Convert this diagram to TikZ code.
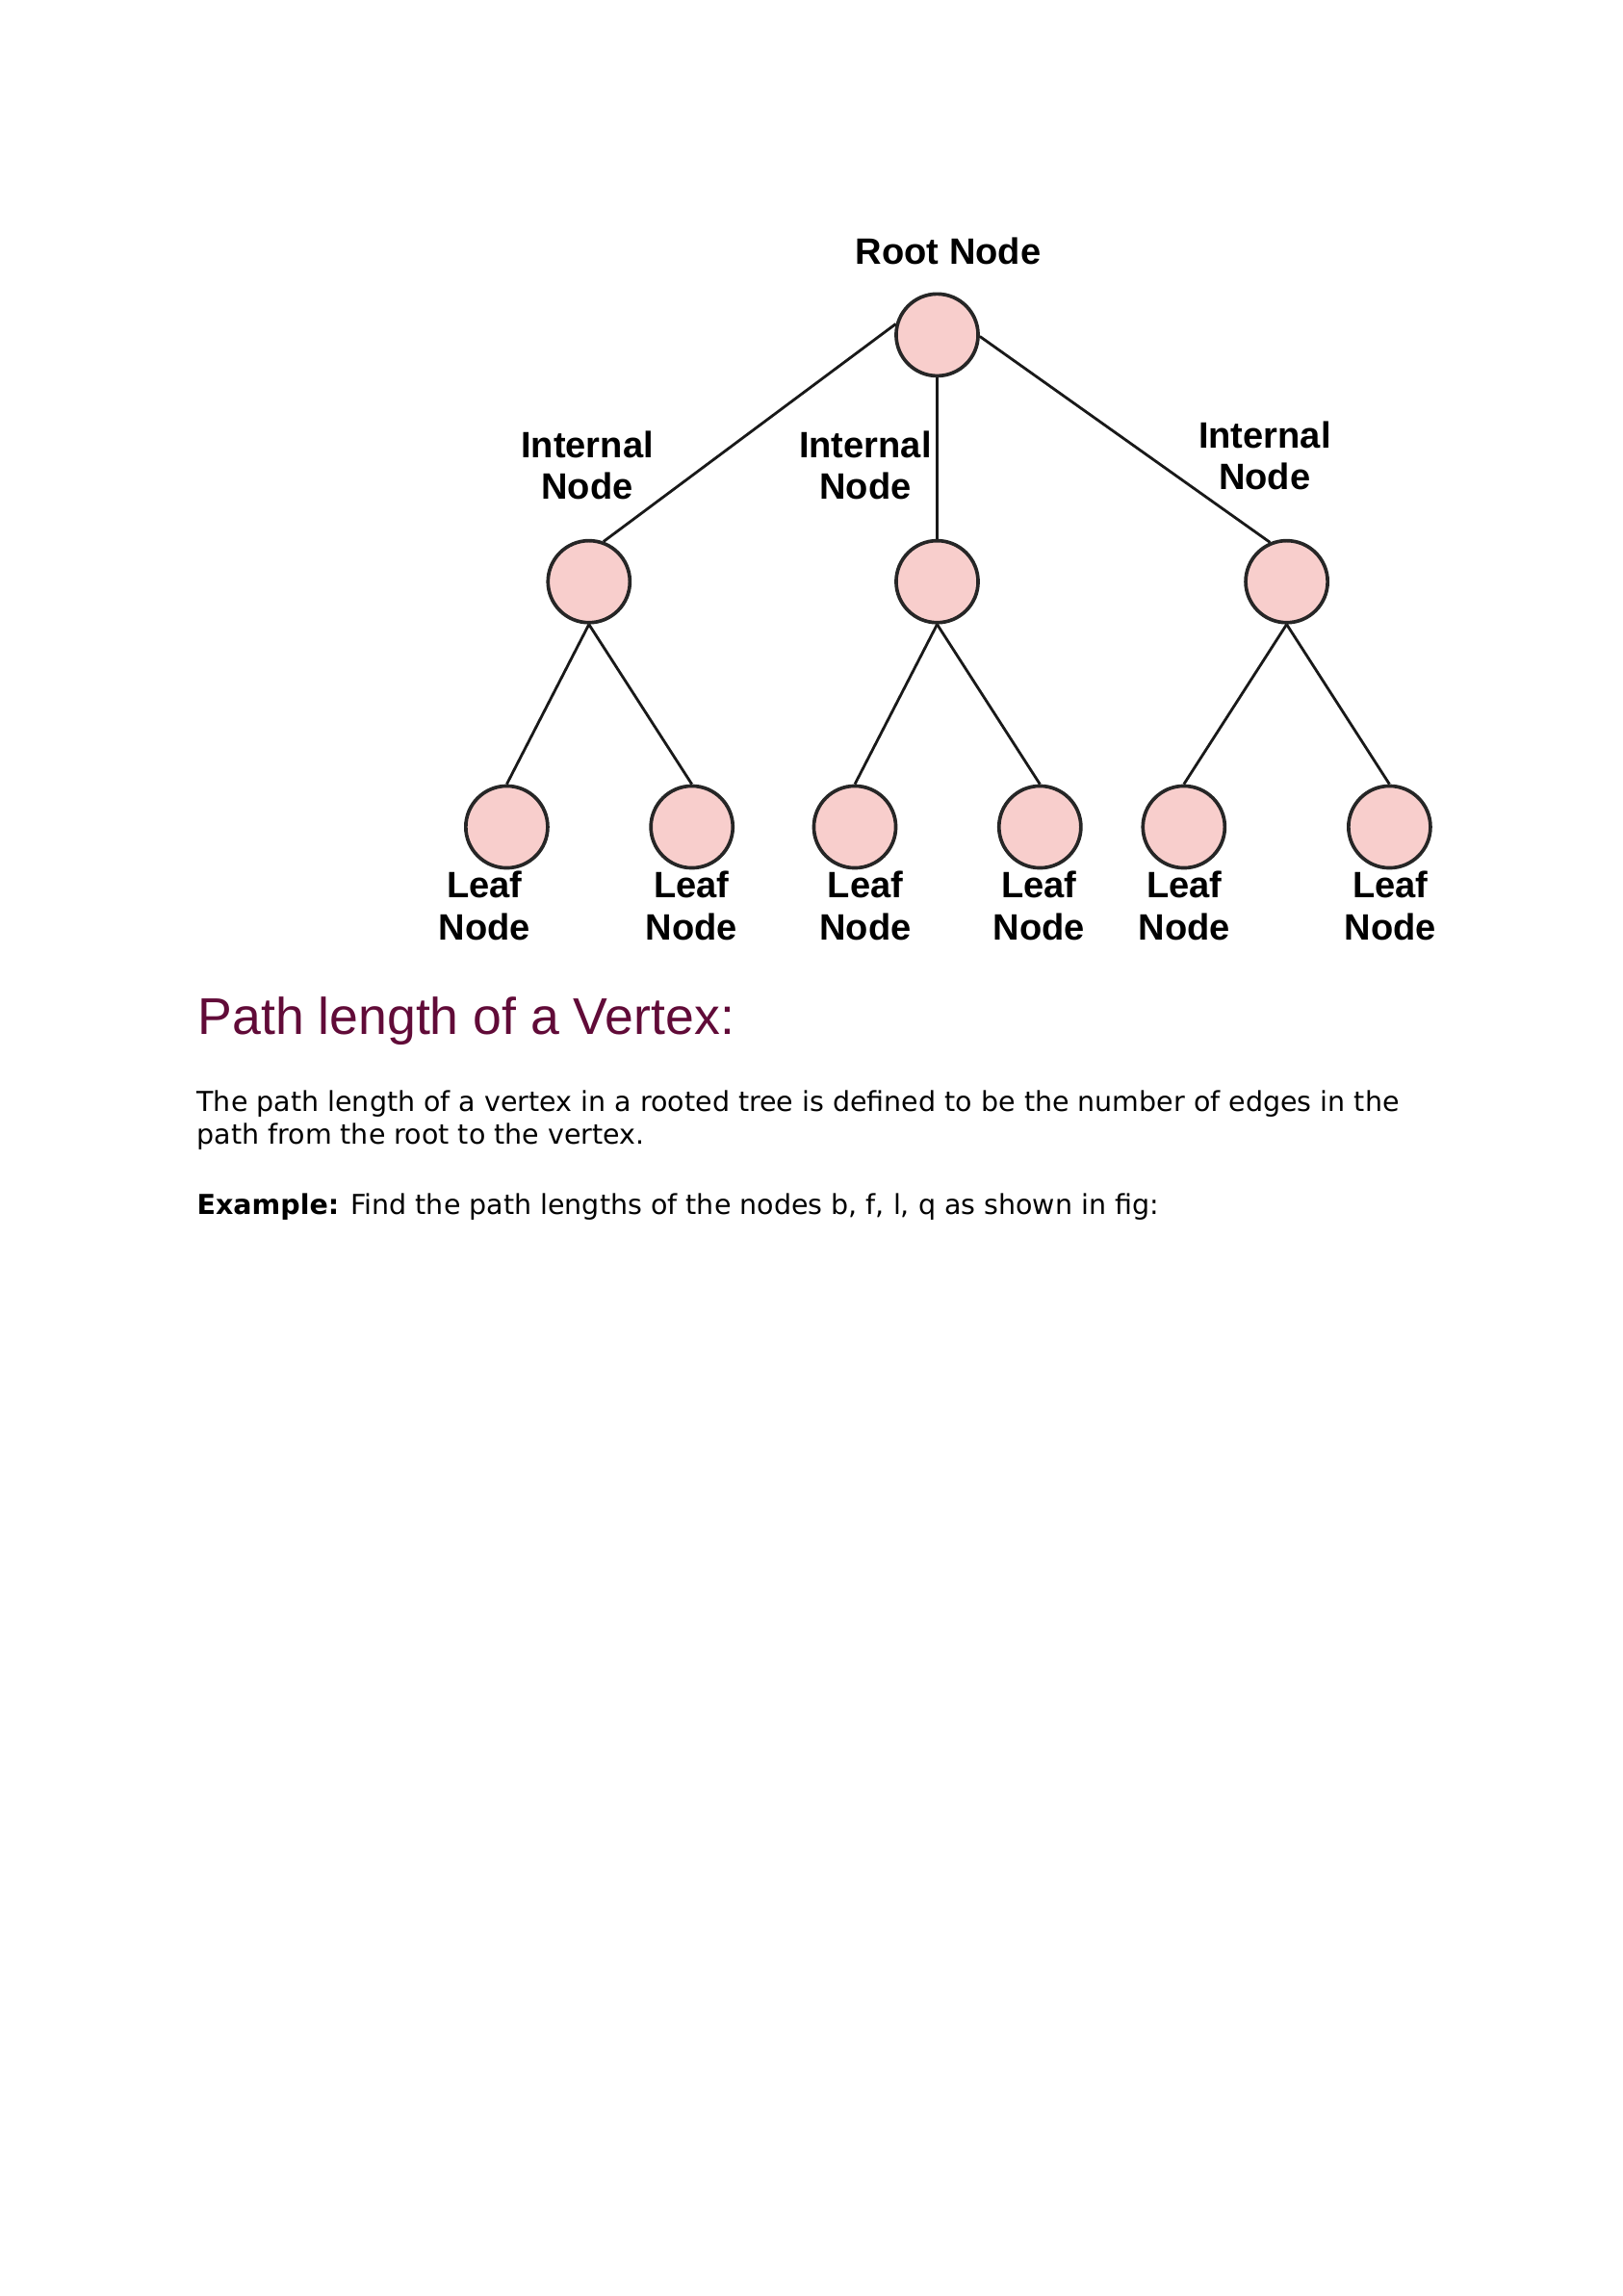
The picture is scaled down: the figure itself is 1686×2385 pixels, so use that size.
\documentclass[tikz,border=0pt]{standalone}
\usepackage{fontspec}
\setmainfont{DejaVu Sans}
\newfontfamily\arialfont{Liberation Sans}
\usepackage{xcolor}
\usepackage{tikz}
\usetikzlibrary{positioning}
\definecolor{nodepink}{HTML}{F8CECC}
\definecolor{headred}{HTML}{610B38}
\tikzstyle{vertex}=[circle,draw=black!85,line width=1.3pt,fill=nodepink,minimum size=10.6mm,inner sep=0pt]
\tikzstyle{lbl}=[font=\arialfont\bfseries\fontsize{13.5}{15.3}\selectfont,align=center,inner sep=0pt]
\tikzstyle{edge}=[line width=1pt,black!90]
\tikzstyle{para}=[font=\fontsize{10.1}{12.4}\selectfont,anchor=base west,inner sep=0pt]
\begin{document}
\begin{tikzpicture}[x=0.124555mm,y=-0.124555mm]
\useasboundingbox (0,0) rectangle (1686,2385);
\fill[white] (0,0) rectangle (1686,2385);
\node[vertex] (root) at (973.5,347.9) {};
\node[vertex] (i1) at (611.8,604.2) {};
\node[vertex] (i2) at (973.5,604.2) {};
\node[vertex] (i3) at (1336.6,604.2) {};
\node[vertex] (l1) at (526.4,859) {};
\node[vertex] (l2) at (718.7,859) {};
\node[vertex] (l3) at (888,859) {};
\node[vertex] (l4) at (1080.3,859) {};
\node[vertex] (l5) at (1229.8,859) {};
\node[vertex] (l6) at (1443.4,859) {};
%Labels
\node[lbl,anchor=base] (troot) at (985,274.3) {Root Node};
\node[lbl,anchor=base] (ti1) at (610,518.3) {Internal\\Node};
\node[lbl,anchor=base] (ti2) at (898.9,518.3) {Internal\\Node};
\node[lbl,anchor=base] (ti3) at (1313.8,508.3) {Internal\\Node};
\node[lbl,anchor=base] (tl1) at (503.2,976) {Leaf\\Node};
\node[lbl,anchor=base] (tl2) at (718.3,976) {Leaf\\Node};
\node[lbl,anchor=base] (tl3) at (898.9,976) {Leaf\\Node};
\node[lbl,anchor=base] (tl4) at (1079.4,976) {Leaf\\Node};
\node[lbl,anchor=base] (tl5) at (1230.5,976) {Leaf\\Node};
\node[lbl,anchor=base] (tl6) at (1444.2,976) {Leaf\\Node};
%Drawing Edges
\draw[edge] (root.165) -- (i1.70);
\draw[edge] (root) -- (i2);
\draw[edge] (root.-2) -- (i3.113);
\draw[edge] (i1.south) -- (l1.north);
\draw[edge] (i1.south) -- (l2.north);
\draw[edge] (i2.south) -- (l3.north);
\draw[edge] (i2.south) -- (l4.north);
\draw[edge] (i3.south) -- (l5.north);
\draw[edge] (i3.south) -- (l6.north);
%Text
\node[anchor=base west,inner sep=0pt,text=headred,font=\arialfont\fontsize{19}{23}\selectfont] (title) at (205,1074) {Path length of a Vertex:};
\node[para] (line1) at (204,1154) {The path length of a vertex in a rooted tree is defined to be the number of edges in the};
\node[para] (line2) at (204,1188.3) {path from the root to the vertex.};
\node[para] (example) at (204,1261.7) {\textbf{Example:} Find the path lengths of the nodes b, f, l, q as shown in fig:};
\end{tikzpicture}
\end{document}
